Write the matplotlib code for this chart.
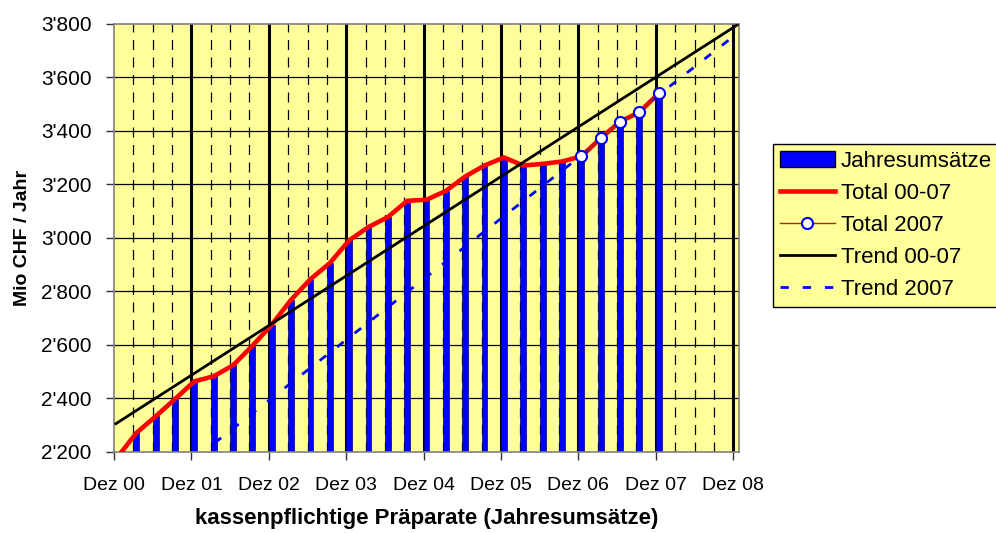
import matplotlib
matplotlib.use("Agg")
import matplotlib.pyplot as plt
from matplotlib.lines import Line2D
from matplotlib.patches import Patch
import numpy as np

plt.rcParams["font.family"] = ["Liberation Sans", "DejaVu Sans"]

# quarterly sales, Dez 00 (q=0) .. Dez 07 (q=28), Mio CHF / Jahr
quarters = list(range(0, 29))
umsatz = [2178, 2271, 2333, 2398, 2464, 2483, 2524, 2597, 2676, 2769,
          2846, 2906, 2991, 3041, 3078, 3139, 3143, 3176, 3230, 3271,
          3301, 3271, 3277, 3286, 3305, 3373, 3435, 3470, 3541]

# trend lines (end points)
trend_all_q = [0.1, 32.2]
trend_all_v = [2306, 3796]
trend_2007_q = [5.2, 32.0]
trend_2007_v = [2234, 3753]

year_labels = ["Dez 00", "Dez 01", "Dez 02", "Dez 03", "Dez 04",
               "Dez 05", "Dez 06", "Dez 07", "Dez 08"]
y_ticks = [2200, 2400, 2600, 2800, 3000, 3200, 3400, 3600, 3800]
y_labels = ["2'200", "2'400", "2'600", "2'800", "3'000",
            "3'200", "3'400", "3'600", "3'800"]

BG = "#FFFF99"
OFF = 0.15

fig = plt.figure(figsize=(9.96, 5.33), dpi=100)
ax = fig.add_axes([0.1145, 0.152, 0.6275, 0.803])
ax.set_facecolor(BG)

x = np.array(quarters) + OFF

# grid: quarters dashed, years solid and heavy
for q in range(1, 33):
    if q % 4 == 0:
        ax.axvline(q, color="black", lw=2.2, zorder=1)
    else:
        ax.axvline(q, color="black", lw=0.9, ls=(0, (8, 6)), zorder=1)
for v in y_ticks[1:-1]:
    ax.axhline(v, color="black", lw=0.9, zorder=1)

ax.bar(x[1:], np.array(umsatz[1:]) - 2200, bottom=2200, width=0.3,
       color="#0000FF", edgecolor="#000080", lw=0.5, zorder=2)
ax.plot(x, umsatz, color="#FF0000", lw=3.3, zorder=3, solid_joinstyle="round")
ax.plot(x[24:], umsatz[24:], color="#993300", lw=1, marker="o", ms=8,
        mfc="white", mec="#0000FF", mew=1.5, zorder=4)
ax.plot(trend_all_q, trend_all_v, color="black", lw=2, zorder=3)
ax.plot(trend_2007_q, trend_2007_v, color="#0000FF", lw=2,
        ls=(0, (3, 5)), zorder=3)

ax.set_xlim(0, 32.3)
ax.set_ylim(2200, 3800)
ax.set_xticks(range(0, 33, 4))
ax.set_xticklabels(year_labels, fontsize=14)
ax.set_yticks(y_ticks)
ax.set_yticklabels(y_labels, fontsize=15)
ax.tick_params(axis="both", direction="out", length=6, width=1, color="#333333")
ax.tick_params(axis="x", pad=12)
ax.tick_params(axis="y", pad=10)
for s in ax.spines.values():
    s.set_color("#808080")
    s.set_linewidth(1.2)

ax.set_xlabel("kassenpflichtige Präparate (Jahresumsätze)", fontsize=16,
              fontweight="bold", labelpad=10)
ax.set_ylabel("Mio CHF / Jahr", fontsize=14, fontweight="bold", labelpad=7)

handles = [
    Patch(facecolor="#0000FF", edgecolor="black", lw=1),
    Line2D([], [], color="#FF0000", lw=3.3),
    Line2D([], [], color="#993300", lw=1, marker="o", ms=8, mfc="white",
           mec="#0000FF", mew=1.5),
    Line2D([], [], color="black", lw=2),
    Line2D([], [], color="#0000FF", lw=2, ls=(0, (3, 5))),
]
labels = ["Jahresumsätze", "Total 00-07", "Total 2007", "Trend 00-07", "Trend 2007"]
leg = fig.legend(handles, labels, loc="upper left",
                 bbox_to_anchor=(0.776, 0.730), fontsize=16, frameon=True,
                 fancybox=False, facecolor=BG, edgecolor="black",
                 framealpha=1, handlelength=2.5, handletextpad=0.25,
                 labelspacing=0.5, borderpad=0.3, borderaxespad=0)
leg.get_frame().set_linewidth(1)

fig.savefig("out.png", dpi=100)
